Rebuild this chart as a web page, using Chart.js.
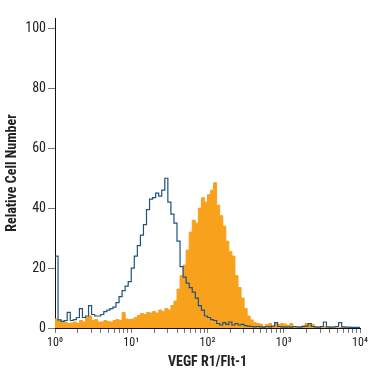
<!DOCTYPE html>
<html>
<head>
<meta charset="utf-8">
<script src="https://cdn.jsdelivr.net/npm/chart.js@4.4.0/dist/chart.umd.min.js"></script>
<style>
  html, body { margin: 0; padding: 0; background: #fff; }
</style>
</head>
<body>
<canvas id="chart" width="375" height="375"></canvas>
<script>
// --- Data: histogram bins (left edge, in decades of fluorescence) ---
const binDecades = [
  0.00, 0.04, 0.08, 0.12, 0.16, 0.20, 0.24, 0.28, 0.32, 0.36,
  0.40, 0.44, 0.48, 0.52, 0.56, 0.60, 0.64, 0.68, 0.72, 0.76,
  0.80, 0.84, 0.88, 0.92, 0.96, 1.00, 1.04, 1.08, 1.12, 1.16,
  1.20, 1.24, 1.28, 1.32, 1.36, 1.40, 1.44, 1.48, 1.52, 1.56,
  1.60, 1.64, 1.68, 1.72, 1.76, 1.80, 1.84, 1.88, 1.92, 1.96,
  2.00, 2.04, 2.08, 2.12, 2.16, 2.20, 2.24, 2.28, 2.32, 2.36,
  2.40, 2.44, 2.48, 2.52, 2.56, 2.60, 2.64, 2.68, 2.72, 2.76,
  2.80, 2.84, 2.88, 2.92, 2.96, 3.00, 3.04, 3.08, 3.12, 3.16,
  3.20, 3.24, 3.28, 3.32, 3.36, 3.40, 3.44, 3.48, 3.52, 3.56,
  3.60, 3.64, 3.68, 3.72, 3.76, 3.80, 3.84, 3.88, 3.92, 3.96,
  4.00
];

// isotype control (blue outline)
const controlCounts = [
  24, 2.7, 2.2, 2.5, 5.2, 2.5, 2.8, 3.5, 6.5, 3.5,
  4, 7.5, 4.5, 4, 4, 4.5, 5.5, 6, 6.5, 7,
  8.5, 10.5, 12.5, 14, 15.5, 20, 24, 27.5, 31, 34.5,
  39.5, 43, 43.5, 45, 44, 46, 50, 42, 38, 35,
  29, 20.5, 17, 15, 13.5, 12, 10, 7.5, 6, 4,
  3.5, 2.8, 2.5, 1.5, 1, 1.8, 1.2, 2, 1, 1.5,
  1, 1.2, 0.8, 0.6, 0.5, 0.4, 0.5, 0.4, 0.3, 0.5,
  0.4, 0.6, 1.8, 0.5, 0.4, 0.3, 0.4, 0.3, 0.5, 0.4,
  0.3, 0.5, 0.6, 1.5, 0.5, 0.4, 0.3, 0.5, 2, 0.4,
  0.3, 0.4, 0.5, 1.8, 0.4, 0.3, 0.3, 0.2, 0.2, 0.2,
  0.2
];

// VEGF R1 stained cells (orange filled)
const vegfCounts = [
  3, 2.7, 2.2, 2, 1.5, 1.7, 2, 1.5, 2.5, 2,
  3.5, 4, 2.5, 2.8, 2, 2, 2.5, 2.2, 2, 2.5,
  2.8, 2.5, 5.2, 3, 2.8, 3, 3.5, 4.2, 4.8, 4.5,
  5.2, 5, 5.5, 5, 6, 5.5, 6.5, 6, 7.5, 9,
  13, 17.5, 21, 26, 32, 36, 35, 40, 43.5, 42,
  44.5, 46, 48.5, 41, 37.5, 34, 29, 25.5, 24, 17.5,
  13.5, 10, 6.5, 4, 2.7, 1.8, 1.5, 1.3, 0.5, 1.2,
  1.5, 0.5, 1.5, 1.2, 1.5, 1.3, 0.8, 1.5, 0.3, 0.2,
  0.3, 0.8, 1.5, 1.5, 1.2, 0.3, 0.2, 0.3, 0.4, 0.2,
  0.2, 0.1, 0.1, 0.1, 0.1, 0.1, 0.1, 0.1, 0.1, 0.1,
  0.1
];

// --- Axis ticks ---
const xDecades = [0, 1, 2, 3, 4];
const xTickLabels = ['10⁰', '10¹', '10²', '10³', '10⁴'];
const xMinorSteps = [1, 2, 3, 4, 5, 6, 7, 8, 9];
const yTicks = [0, 20, 40, 60, 80, 100];

const toPoints = counts => binDecades.map((d, i) => ({ x: Math.pow(10, d), y: counts[i] }));

const xTickValues = [];
xDecades.slice(0, -1).forEach(d => {
  xMinorSteps.forEach(m => xTickValues.push(m * Math.pow(10, d)));
});
xTickValues.push(Math.pow(10, xDecades[xDecades.length - 1]));

// condensed face, like the original figure's font
Chart.defaults.font.family = "Roboto, 'Liberation Sans', sans-serif";
Chart.defaults.font.weight = 'condensed';
Chart.defaults.color = '#222';

new Chart(document.getElementById('chart'), {
  type: 'line',
  data: {
    datasets: [
      {
        label: 'Isotype control',
        data: toPoints(controlCounts),
        stepped: true,
        borderColor: '#20527f',
        borderWidth: 1.2,
        pointRadius: 0,
        fill: false,
        order: 0
      },
      {
        label: 'VEGF R1/Flt-1',
        data: toPoints(vegfCounts),
        stepped: true,
        borderColor: '#f8a11d',
        backgroundColor: '#f8a11d',
        borderWidth: 1,
        pointRadius: 0,
        fill: 'origin',
        order: 1
      }
    ]
  },
  options: {
    responsive: false,
    animation: false,
    layout: { padding: { left: 0, right: 15, top: 18, bottom: 0 } },
    plugins: {
      legend: { display: false },
      tooltip: { enabled: false }
    },
    scales: {
      x: {
        type: 'logarithmic',
        min: 1,
        max: 10000,
        afterBuildTicks: s => { s.ticks = xTickValues.map(v => ({ value: v })); },
        afterFit: s => { s.height = 47; },
        ticks: {
          autoSkip: false,
          maxRotation: 0,
          padding: 3,
          font: { size: 12 },
          callback: v => {
            const i = xDecades.findIndex(d => Math.pow(10, d) === v);
            return i >= 0 ? xTickLabels[i] : '';
          }
        },
        grid: { drawOnChartArea: false, tickLength: 5, color: '#777' },
        border: { color: '#111', width: 1 },
        title: {
          display: true,
          text: 'VEGF R1/Flt-1',
          font: { size: 14, weight: 'bold condensed' },
          padding: { top: 0, bottom: 4 }
        }
      },
      y: {
        min: 0,
        max: 103.5,
        afterBuildTicks: s => { s.ticks = yTicks.map(v => ({ value: v })); },
        afterFit: s => { s.width = 55; },
        ticks: { padding: 2, font: { size: 14 } },
        grid: { drawOnChartArea: false, tickLength: 7, color: '#777' },
        border: { color: '#111', width: 1 },
        title: {
          display: true,
          text: 'Relative Cell Number',
          font: { size: 14, weight: 'bold condensed' },
          padding: { top: 4, bottom: 0 }
        }
      }
    }
  }
});
</script>
</body>
</html>
